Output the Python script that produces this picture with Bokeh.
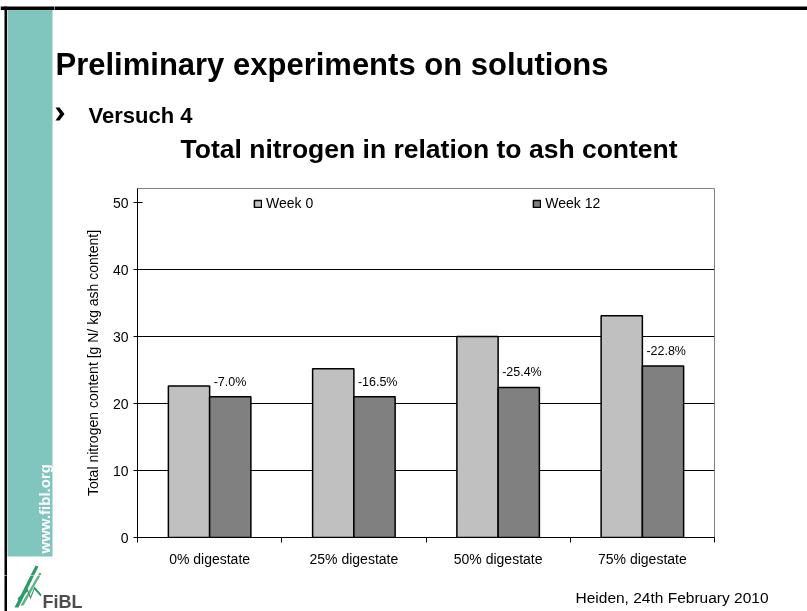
from math import pi
from bokeh.plotting import figure
from bokeh.layouts import column, row
from bokeh.models import (Range1d, FixedTicker, ColumnDataSource, InlineStyleSheet)
from bokeh.core.properties import value
from bokeh.transform import dodge
from bokeh.embed import file_html
from bokeh.resources import INLINE

# ---------------- data ----------------
categories = ["0% digestate", "25% digestate", "50% digestate", "75% digestate"]
week0 = [22.6, 25.2, 30.0, 33.1]
week12 = [21.0, 21.0, 22.4, 25.6]
changes = ["-7.0%", "-16.5%", "-25.4%", "-22.8%"]
series_names = ["Week 0", "Week 12"]
y_ticks = [0, 10, 20, 30, 40, 50]

title_text = "Preliminary experiments on solutions"
bullet_text = "Versuch 4"
chart_title = "Total nitrogen in relation to ash content"
y_label = "Total nitrogen content [g N/ kg ash content]"
footer_text = "Heiden, 24th February 2010"
url_text = "www.fibl.org"
logo_text = "FiBL"

# ---------------- page layout (pixels) ----------------
PW, PH = 807, 611
SIDE_W = 54            # left strip
TOP_H = 170            # header strip
BOT_Y = 575            # footer strip starts (full width)
FL, FR, FT, FB = 137, 714, 188, 537   # chart frame on the page
YMAX = 52.09
FONT = "Liberation Sans"
TEAL = "#80c5be"


def no_align(f):
    try:
        f.frame_align = False
    except Exception:
        pass


def deco_fig(w, h, x0, y0):
    f = figure(width=w, height=h, x_range=Range1d(x0, x0 + w),
               y_range=Range1d(y0 + h, y0), x_axis_type=None, y_axis_type=None,
               title=None, min_border=0, toolbar_location=None,
               output_backend="svg")
    f.outline_line_color = None
    f.background_fill_color = "white"
    f.border_fill_color = "white"
    no_align(f)
    return f


def label(f, x, y, txt, size, bold=False, color="black", **kw):
    f.text(x=[x], y=[y], text=[txt], text_baseline="middle",
           text_font=value(FONT), text_font_size=value(size),
           text_font_style="bold" if bold else "normal", text_color=color, **kw)


def top_rule(f):
    f.quad(left=[0], right=[PW], top=[6], bottom=[9.5], fill_color="black", line_color=None)


def left_rule(f):
    f.quad(left=[4], right=[6.5], top=[6], bottom=[PH + 3], fill_color="black",
           line_color=None)


def swoosh(f):
    f.patch([14, 18, 38, 35], [607, 607, 566, 565], fill_color="#2f9a6a", line_color=None)
    f.patch([20, 23, 41, 39], [605, 605, 573, 572], fill_color="#5bb585", line_color=None)
    f.patch([17, 27, 30, 34, 41, 40, 34, 30, 27, 18],
            [598, 588, 596, 586, 594, 596, 589, 599, 591, 600],
            fill_color="#2f9a6a", line_color=None)


# ---- left strip ----
left = deco_fig(SIDE_W, BOT_Y, 0, 0)
top_rule(left)
left_rule(left)
left.quad(left=[7], right=[52], top=[9.5], bottom=[556], fill_color=TEAL,
          line_color=None)
label(left, 44, 553, url_text, "15px", bold=True, color="white",
      angle=pi / 2, text_align="left")
swoosh(left)

# ---- header ----
top = deco_fig(PW - SIDE_W, TOP_H, SIDE_W, 0)
top_rule(top)
label(top, 55, 63.5, title_text, "31px", bold=True)
top.patch([55, 59, 64, 59, 55, 59.5], [107, 107, 113.5, 120, 120, 113.5],
          fill_color="black", line_color=None)
label(top, 88, 114.5, bullet_text, "22px", bold=True)
label(top, 180, 148, chart_title, "26.5px", bold=True)

# ---- footer (full width) ----
bot = deco_fig(PW, PH - BOT_Y, 0, BOT_Y)
left_rule(bot)
swoosh(bot)
label(bot, 42, 601.5, logo_text, "18px", bold=True, color="#4d4d4d")
label(bot, 575, 597, footer_text, "15.5px")

# ---- chart ----
xc = [i + 0.5 for i in range(len(categories))]
source = ColumnDataSource(dict(x=xc, week0=week0, week12=week12, chg=changes))

p = figure(width=PW - SIDE_W, height=BOT_Y - TOP_H, x_range=Range1d(0, len(categories)),
           y_range=Range1d(0, YMAX), output_backend="svg", toolbar_location=None,
           title=None,
           min_border_left=FL - SIDE_W, min_border_right=PW - FR,
           min_border_top=FT - TOP_H, min_border_bottom=BOT_Y - FB)
no_align(p)
p.background_fill_color = "white"
p.border_fill_color = "white"
p.outline_line_color = "#808080"
p.outline_line_width = 1

BW = 0.286
p.vbar(x=dodge("x", -BW / 2), top="week0", width=BW, source=source,
       fill_color="#c0c0c0", line_color="black", line_width=1.5,
       legend_label=series_names[0])
p.vbar(x=dodge("x", BW / 2), top="week12", width=BW, source=source,
       fill_color="#808080", line_color="black", line_width=1.5,
       legend_label=series_names[1])

p.text(x="x", y="week12", text="chg", source=source, x_offset=4, y_offset=-15,
       text_baseline="middle", text_align="left", text_color="black",
       text_font=value(FONT), text_font_size=value("12.5px"))

xa = p.xaxis[0]
xa.ticker = FixedTicker(ticks=xc, minor_ticks=list(range(len(categories) + 1)))
xa.major_label_overrides = {x: c for x, c in zip(xc, categories)}
xa.major_tick_line_color = None
xa.major_tick_out = 0
xa.major_tick_in = 0
xa.minor_tick_out = 5
xa.minor_tick_in = 0
xa.minor_tick_line_color = "black"
xa.major_label_standoff = 8
xa.axis_line_color = "black"
xa.major_label_text_font = FONT
xa.major_label_text_font_size = "14px"
xa.major_label_text_color = "black"

ya = p.yaxis[0]
ya.ticker = FixedTicker(ticks=y_ticks, minor_ticks=[])
ya.major_tick_in = 5
ya.major_tick_out = 4
ya.major_tick_line_color = "black"
ya.minor_tick_line_color = None
ya.major_label_standoff = 5
ya.axis_line_color = "black"
ya.major_label_text_font = FONT
ya.major_label_text_font_size = "14px"
ya.major_label_text_color = "black"
ya.axis_label = y_label
ya.axis_label_text_font = FONT
ya.axis_label_text_font_size = "14px"
ya.axis_label_text_font_style = "normal"
ya.axis_label_text_color = "black"
ya.axis_label_standoff = 9

p.xgrid.visible = False
p.ygrid.ticker = FixedTicker(ticks=y_ticks[1:-1])
p.ygrid.grid_line_color = "black"
p.ygrid.grid_line_width = 1

lg = p.legend[0]
lg.orientation = "horizontal"
lg.location = (116, 326)
lg.padding = 0
lg.margin = 0
lg.spacing = 219
lg.glyph_width = 9
lg.glyph_height = 9
lg.label_standoff = 4
lg.label_height = 16
lg.label_text_font = FONT
lg.label_text_font_size = "14px"
lg.label_text_color = "black"
lg.background_fill_alpha = 0
lg.border_line_color = None

root = column(row(left, column(top, p, spacing=0), spacing=0), bot, spacing=0)
root.stylesheets = [InlineStyleSheet(
    css=":host { position: fixed !important; left: 0 !important; top: 0 !important; }")]

open("out.html", "w").write(file_html(root, INLINE))
